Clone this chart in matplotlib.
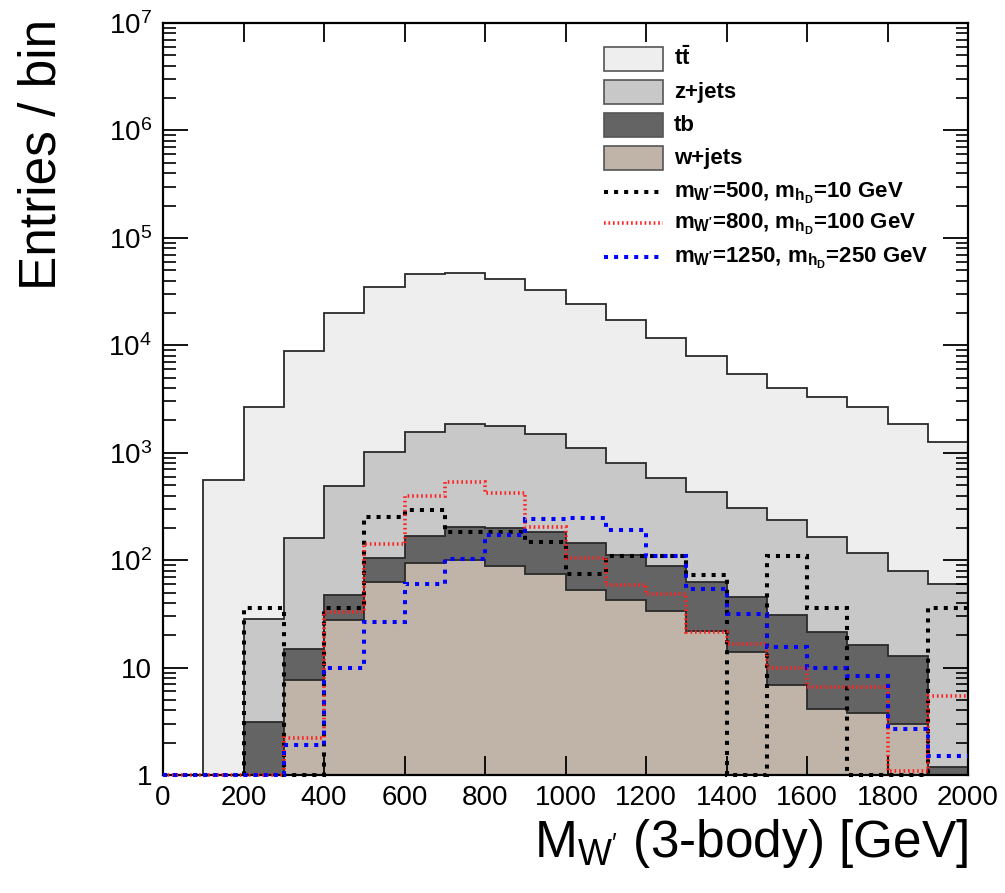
import numpy as np
import matplotlib
matplotlib.use("Agg")
import matplotlib.pyplot as plt
from matplotlib.patches import Rectangle
from matplotlib.ticker import FixedLocator, FuncFormatter, LogLocator, NullFormatter

plt.rcParams['font.family'] = ['Liberation Sans', 'DejaVu Sans']
plt.rcParams['mathtext.fontset'] = 'custom'
plt.rcParams['mathtext.rm'] = 'Liberation Sans'
plt.rcParams['mathtext.bf'] = 'Liberation Sans:bold'
plt.rcParams['mathtext.it'] = 'Liberation Sans:italic'
plt.rcParams['mathtext.default'] = 'regular'

# bin edges, 100 GeV bins from 0 to 2000
edges = np.arange(0, 2001, 100)

# background processes (entries per bin)
w_jets = [0, 0, 0, 7.7, 28, 63, 95, 100, 88, 74, 53, 43, 34, 22, 14, 6.9, 4.1, 3.75, 3.0, 0]
tb = [0, 0, 3.1, 7.1, 19, 41, 73, 102, 110, 107, 91, 69, 54, 41, 31, 24, 17.5, 12.5, 9.8, 1.2]
z_jets = [0, 0, 25, 145, 444, 920, 1405, 1653, 1589, 1304, 958, 697, 490, 365, 259, 206, 144, 100, 67, 59]
ttbar = [0, 558, 2622, 8710, 19400, 33700, 44300, 45000, 39700, 31300, 23400, 16400, 11200,
         7530, 5080, 3750, 3120, 2530, 1770, 1210]

# signal hypotheses (not stacked)
sig_500 = [0, 0, 36, 0, 36, 254, 293, 184, 184, 147, 74, 110, 110, 73, 0, 110, 36, 0, 0, 36]
sig_800 = [0, 0, 0, 2.2, 33, 141, 396, 538, 420, 205, 104, 59, 48, 21.6, 16.5, 9.85, 6.6, 6.6, 1.1, 5.4]
sig_1250 = [0, 0, 0, 1.9, 9.85, 26.8, 60, 102, 172, 240, 249, 191, 109, 53.6, 31.3, 15.7, 9.85, 8.4, 2.66, 1.5]

bkg_labels = [r'$\mathbf{t}\bar{\mathbf{t}}$', 'z+jets', 'tb', 'w+jets']
bkg_colors = ['#eeeeee', '#c8c8c8', '#646464', '#c0b4a8']
sig_labels = [r"m$_{\mathbf{W'}}$=500, m$_{\mathbf{h_D}}$=10 GeV",
              r"m$_{\mathbf{W'}}$=800, m$_{\mathbf{h_D}}$=100 GeV",
              r"m$_{\mathbf{W'}}$=1250, m$_{\mathbf{h_D}}$=250 GeV"]
sig_colors = ['black', '#ff2020', '#0000ff']

fig = plt.figure(figsize=(10.05, 8.93), dpi=100)
ax = fig.add_axes([0.1622, 0.1321, 0.801, 0.8421])

# stack: w+jets at the bottom, then tb, z+jets, ttbar on top
c_w = np.array(w_jets)
c_tb = c_w + np.array(tb)
c_z = c_tb + np.array(z_jets)
c_tt = c_z + np.array(ttbar)

ecol = '#2a2a2a'
for vals, fc in zip([c_tt, c_z, c_tb, c_w], bkg_colors):
    ax.stairs(np.maximum(vals, 1), edges, baseline=1, fill=True,
              facecolor=fc, edgecolor=ecol, linewidth=1.3, zorder=1)

ls_sq = (0, (1.0, 1.5))
ls_red = (0, (0.45, 0.8))
sig_styles = [(2.9, ls_sq), (2.6, ls_red), (2.9, ls_sq)]
for sig, col, (lw, ls) in zip([sig_500, sig_800, sig_1250], sig_colors, sig_styles):
    ax.stairs(np.maximum(sig, 1), edges, baseline=None, color=col, lw=lw,
              linestyle=ls, zorder=4, clip_on=False)

ax.set_yscale('log')
ax.set_xlim(0, 2000)
ax.set_ylim(1, 1e7)

ax.xaxis.set_major_locator(FixedLocator(np.arange(0, 2001, 200)))
ax.yaxis.set_major_locator(LogLocator(base=10, numticks=10))
ax.yaxis.set_minor_locator(LogLocator(base=10, subs=np.arange(2, 10), numticks=20))
ax.yaxis.set_minor_formatter(NullFormatter())


def yfmt(v, pos):
    n = int(round(np.log10(v)))
    if n == 0:
        return '1'
    if n == 1:
        return '10'
    return r'$10^{%d}$' % n


ax.yaxis.set_major_formatter(FuncFormatter(yfmt))

ax.tick_params(axis='both', which='major', direction='in', top=True, right=True,
               labelsize=20, width=1.3)
ax.tick_params(axis='x', which='major', length=14, pad=7)
ax.tick_params(axis='y', which='major', length=18, pad=8)
ax.tick_params(axis='y', which='minor', direction='in', right=True, length=9, width=1.2)
ax.tick_params(axis='x', which='minor', bottom=False, top=False)
for s in ax.spines.values():
    s.set_linewidth(1.6)
    s.set_zorder(3)

fig.text(17 / 1005, 1 - 19 / 893, 'Entries / bin', rotation=90, ha='left', va='top', fontsize=37)
ax.set_xlabel(r"M$_{W'}$ (3-body) [GeV]", fontsize=37, loc='right')
ax.xaxis.set_label_coords(1.0, -0.056)

# legend drawn in figure pixel coordinates
lax = fig.add_axes([0, 0, 1, 1])
lax.set_xlim(0, 1005)
lax.set_ylim(893, 0)
lax.set_xticks([])
lax.set_yticks([])
lax.axis('off')
rows = [59, 92, 125, 158, 192, 223, 257]
for i, (lab, fc) in enumerate(zip(bkg_labels, bkg_colors)):
    yc = rows[i]
    lax.add_patch(Rectangle((604, yc - 12), 59, 24, facecolor=fc, edgecolor='#555555', lw=1.2))
    lax.text(674, yc + 6, lab, fontsize=16, fontweight='bold', va='baseline', ha='left')
for j, (lab, col, (lw, ls)) in enumerate(zip(sig_labels, sig_colors, sig_styles)):
    yc = rows[4 + j]
    lax.plot([604, 663], [yc, yc], color=col, lw=lw, linestyle=ls)
    lax.text(674, yc + 6, lab, fontsize=16, fontweight='bold', va='baseline', ha='left')

fig.savefig('out.png', dpi=100)
